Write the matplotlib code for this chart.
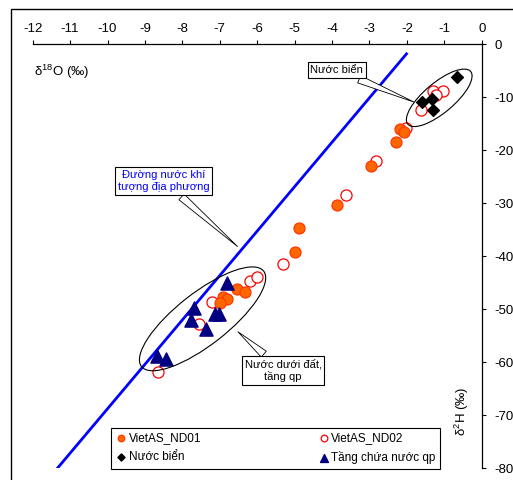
import numpy as np
import matplotlib
matplotlib.use("Agg")
import matplotlib.pyplot as plt
from matplotlib.patches import Ellipse, Rectangle
from matplotlib.transforms import ScaledTranslation

plt.rcParams["font.family"] = ["Liberation Sans", "DejaVu Sans"]
plt.rcParams["mathtext.fontset"] = "custom"
plt.rcParams["mathtext.rm"] = "Liberation Sans"
plt.rcParams["mathtext.it"] = "Liberation Sans"
plt.rcParams["axes.unicode_minus"] = False

# VietAS_ND01 (filled)
nd01_o18 = [-2.19, -2.07, -2.28, -2.95, -3.88, -4.89, -5.00, -6.54, -6.32, -6.92, -6.80, -6.99]
nd01_h2 = [-15.9, -16.6, -18.5, -23.0, -30.4, -34.7, -39.1, -46.2, -46.8, -47.7, -48.1, -48.8]
# VietAS_ND02 (open)
nd02_o18 = [-1.30, -1.03, -1.23, -1.63, -2.01, -2.83, -3.64, -5.31, -6.20, -6.01, -7.21, -7.56, -8.66]
nd02_h2 = [-8.9, -8.8, -9.6, -12.4, -15.7, -22.0, -28.4, -41.5, -44.7, -44.0, -48.7, -52.8, -61.8]
# sea water
sea_o18 = [-0.67, -1.59, -1.32, -1.31]
sea_h2 = [-6.2, -10.9, -10.3, -12.4]
# qp aquifer
qp_o18 = [-6.81, -7.68, -7.76, -7.14, -7.01, -7.36, -8.69, -8.43]
qp_h2 = [-45.1, -49.8, -52.0, -50.9, -50.9, -53.8, -58.9, -59.4]
# local meteoric water line end points
lmwl_o18 = [-11.34, -2.01]
lmwl_h2 = [-80.0, -1.8]

fig = plt.figure(figsize=(5.13, 4.8), dpi=100)
ax = fig.add_axes([0.0637, 0.0244, 0.8753, 0.8833])

ax.plot(lmwl_o18, lmwl_h2, color="#0000ff", lw=2.0, zorder=2)
h1 = ax.scatter(nd01_o18, nd01_h2, s=64, c="#ff6600", edgecolors="#ff3300", lw=0.8, zorder=4)
h2 = ax.scatter(nd02_o18, nd02_h2, s=64, facecolors="white", edgecolors="#ff0000", lw=0.9, zorder=3)
h3 = ax.scatter(sea_o18, sea_h2, s=36, marker="D", c="black", zorder=5)
h4 = ax.scatter(qp_o18, qp_h2, s=90, marker="^", c="#000080", zorder=5)

ax.set_xlim(-12, 0)
ax.set_ylim(-80, 0)
ax.set_xticks(np.arange(-12, 1, 1))
ax.set_yticks(np.arange(-80, 1, 10))
ax.xaxis.tick_top()
ax.yaxis.tick_right()
ax.tick_params(labelsize=9.5, length=3, width=0.8, direction="out", pad=4)
ax.tick_params(axis="y", pad=6)
for s in ["left", "bottom"]:
    ax.spines[s].set_visible(False)
for s in ["top", "right"]:
    ax.spines[s].set_linewidth(0.9)
for lab in ax.get_yticklabels():
    lab.set_horizontalalignment("left")

ax.text(0.002, 0.935, r"δ$^{18}$O (‰)", transform=ax.transAxes, fontsize=9.5, va="center")
ax.text(0.957, 0.135, r"δ$^{2}$H (‰)", transform=ax.transAxes, fontsize=9.5,
        rotation=90, ha="center", va="center")


def ring(cx, cy, w, h, ang):
    tr = fig.dpi_scale_trans + ScaledTranslation(cx, cy, ax.transData)
    ax.add_patch(Ellipse((0, 0), w, h, angle=ang, transform=tr, fill=False,
                         ec="black", lw=0.8, zorder=6))


ring(-1.135, -10.1, 0.82, 0.30, 40)
ring(-7.46, -51.8, 1.55, 0.52, 38)

box = dict(boxstyle="square,pad=0.25", fc="white", ec="black", lw=0.8)
wedge = dict(arrowstyle="wedge,tail_width=0.7,shrink_factor=0.5", fc="white", ec="black", lw=0.6)
ax.annotate("Nước biển", xy=(-1.74, -11.1), xytext=(-3.87, -4.85), fontsize=8,
            ha="center", va="center", bbox=box, arrowprops=wedge, zorder=7)
ax.annotate("Đường nước khí\ntượng địa phương", xy=(-6.47, -38.5), xytext=(-8.50, -25.8),
            fontsize=8, color="#0000ff", ha="center", va="center", bbox=box,
            arrowprops=wedge, zorder=7)
ax.annotate("Nước dưới đất,\ntầng qp", xy=(-6.57, -53.9), xytext=(-5.31, -61.6),
            fontsize=8, ha="center", va="center", bbox=box, arrowprops=wedge, zorder=7)

leg = ax.legend([h1, h3, h2, h4],
                ["VietAS_ND01", "Nước biển", "VietAS_ND02", "Tầng chứa nước qp"],
                ncol=2, loc="lower left", bbox_to_anchor=(0.174, -0.002, 0.733, 0.108),
                mode="expand", borderaxespad=0, fontsize=8.5, markerscale=0.6,
                handletextpad=0.1, handlelength=1.0, fancybox=False, edgecolor="black",
                framealpha=1, labelspacing=0.6)
leg.get_frame().set_linewidth(0.8)

fig.patches.append(Rectangle((11 / 513, -0.05), 1.2, 1.05 - 9 / 480, transform=fig.transFigure,
                             fill=False, ec="black", lw=1.0))

fig.savefig("out.png", dpi=100)
